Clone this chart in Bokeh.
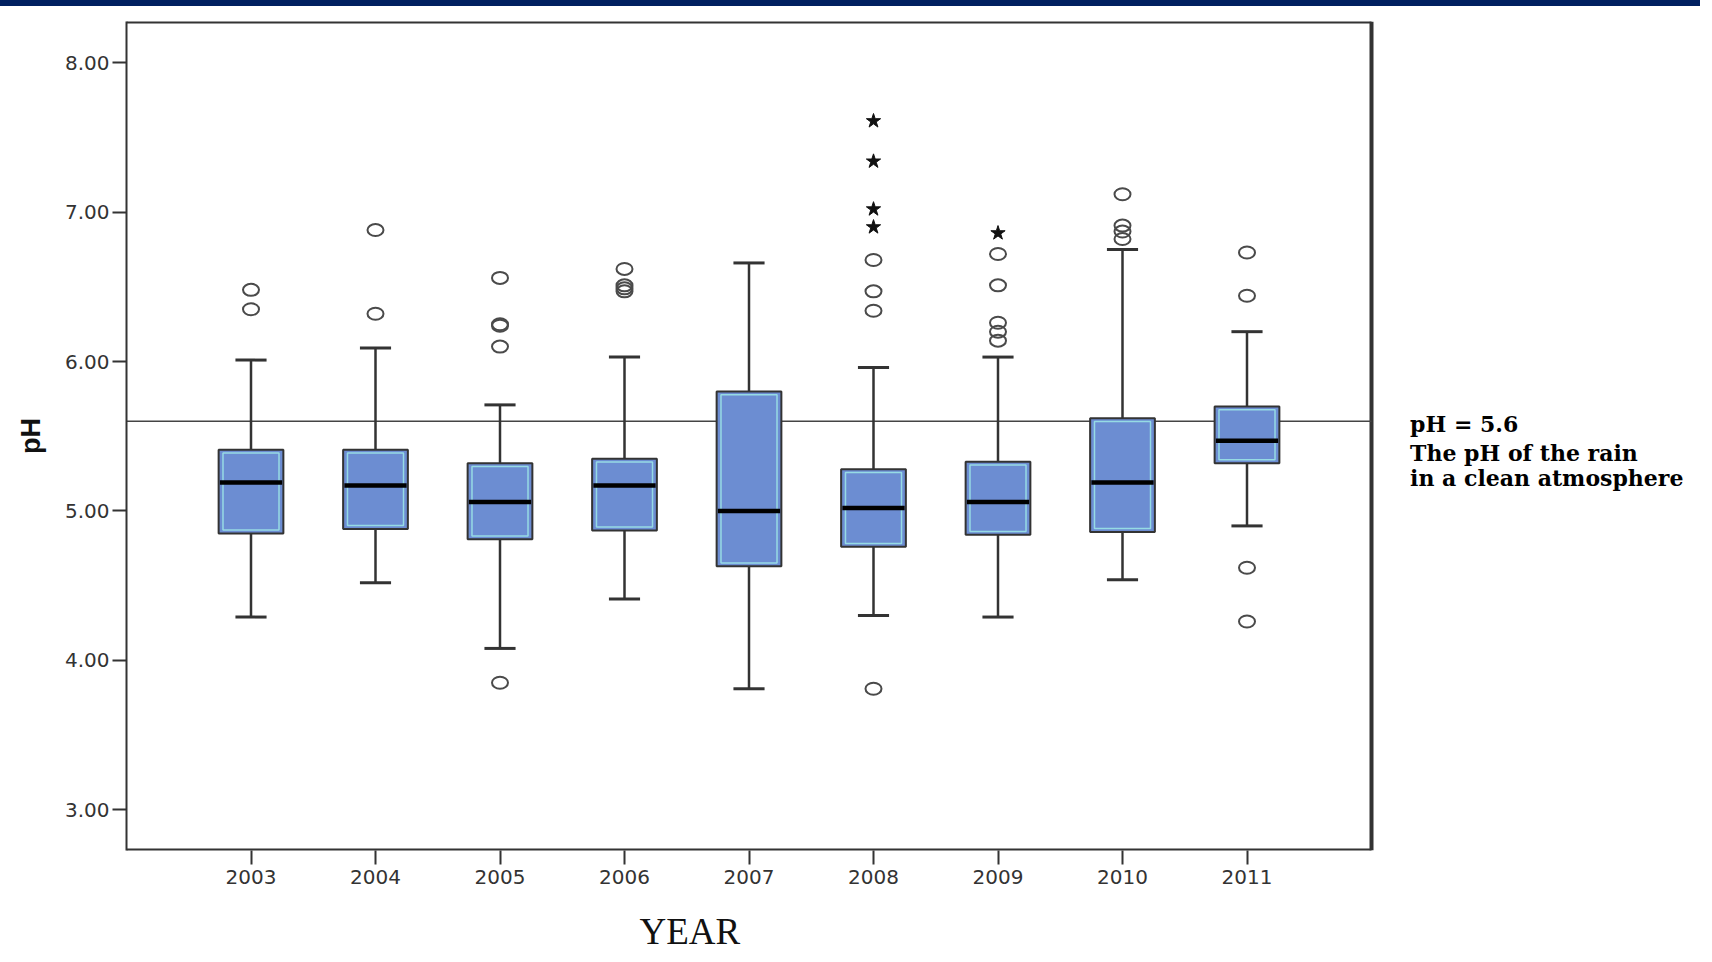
from bokeh.plotting import figure
from bokeh.models import Range1d, FixedTicker, Title, Div
from bokeh.layouts import column
from bokeh.core.properties import value
from bokeh.embed import file_html
from bokeh.resources import INLINE

# ---------------- data ----------------
years = ["2003", "2004", "2005", "2006", "2007", "2008", "2009", "2010", "2011"]
lower_whisker = [4.29, 4.52, 4.08, 4.41, 3.81, 4.30, 4.29, 4.54, 4.90]
q1 = [4.85, 4.88, 4.81, 4.87, 4.63, 4.76, 4.84, 4.86, 5.32]
median = [5.19, 5.17, 5.06, 5.17, 5.00, 5.02, 5.06, 5.19, 5.47]
q3 = [5.41, 5.41, 5.32, 5.35, 5.80, 5.28, 5.33, 5.62, 5.70]
upper_whisker = [6.01, 6.09, 5.71, 6.03, 6.66, 5.96, 6.03, 6.75, 6.20]

outlier_year = (["2003"] * 2 + ["2004"] * 2 + ["2005"] * 5 + ["2006"] * 4 +
                ["2008"] * 4 + ["2009"] * 5 + ["2010"] * 4 + ["2011"] * 4)
outlier_ph = [6.48, 6.35,
              6.88, 6.32,
              6.56, 6.25, 6.24, 6.10, 3.85,
              6.62, 6.51, 6.49, 6.47,
              6.68, 6.47, 6.34, 3.81,
              6.72, 6.51, 6.26, 6.20, 6.14,
              7.12, 6.91, 6.87, 6.82,
              6.73, 6.44, 4.62, 4.26]
extreme_year = ["2008", "2008", "2008", "2008", "2009"]
extreme_ph = [7.61, 7.34, 7.02, 6.90, 6.86]

clean_ph = 5.6
y_ticks = [3, 4, 5, 6, 7, 8]
y_tick_labels = ["3.00", "4.00", "5.00", "6.00", "7.00", "8.00"]
note_lines = ["pH = 5.6", "The pH of the rain", "in a clean atmosphere"]

# ---------------- geometry helpers ----------------
xpos = [i + 1 for i in range(len(years))]
xmap = {y: i + 1 for i, y in enumerate(years)}
n_cat = len(years)
x_end_box = n_cat + 1          # right border of the plotting box
y_lo, y_hi = 2.7275, 8.276
box_half = 0.26
cap_half = 0.125
dark = "#333333"

W, H = 1700, 956
p = figure(width=W, height=H, output_backend="svg", toolbar_location=None,
           x_range=Range1d(0, (W - 126) / 124.5), y_range=Range1d(y_lo, y_hi),
           min_border_left=126, min_border_right=0, min_border_top=15,
           min_border_bottom=112)
p.outline_line_color = None
p.grid.visible = False

# x axis
p.xaxis.ticker = FixedTicker(ticks=xpos)
p.xaxis.major_label_overrides = {x: y for x, y in zip(xpos, years)}
p.xaxis.axis_line_color = None
p.xaxis.major_tick_out = 14
p.xaxis.major_tick_in = 0
p.xaxis.major_tick_line_width = 2
p.xaxis.major_tick_line_color = dark
p.xaxis.minor_tick_line_color = None
p.xaxis.major_label_text_font = "DejaVu Sans"
p.xaxis.major_label_text_font_size = "20px"
p.xaxis.major_label_text_color = dark
p.xaxis.major_label_standoff = 5

# y axis
p.yaxis.ticker = FixedTicker(ticks=y_ticks)
p.yaxis.major_label_overrides = {t: l for t, l in zip(y_ticks, y_tick_labels)}
p.yaxis.axis_line_color = dark
p.yaxis.axis_line_width = 2
p.yaxis.major_tick_out = 14
p.yaxis.major_tick_in = 0
p.yaxis.major_tick_line_width = 2
p.yaxis.major_tick_line_color = dark
p.yaxis.minor_tick_line_color = None
p.yaxis.major_label_text_font = "DejaVu Sans"
p.yaxis.major_label_text_font_size = "20px"
p.yaxis.major_label_text_color = dark
p.yaxis.major_label_standoff = 3
p.yaxis.axis_label = "pH"
p.yaxis.axis_label_text_font = "Liberation Sans"
p.yaxis.axis_label_text_font_style = "bold"
p.yaxis.axis_label_text_font_size = "27px"
p.yaxis.axis_label_text_color = "#111111"
p.yaxis.axis_label_standoff = 16

# box border (top, right, bottom)
p.segment(x0=[0, x_end_box, 0], y0=[y_hi, y_lo, y_lo],
          x1=[x_end_box, x_end_box, x_end_box], y1=[y_hi, y_hi, y_lo],
          line_color=dark, line_width=4)

# reference line pH 5.6
p.segment(x0=[0], y0=[clean_ph], x1=[x_end_box], y1=[clean_ph],
          line_color="#444444", line_width=1.6)

# whiskers
p.segment(x0=xpos, y0=q3, x1=xpos, y1=upper_whisker, line_color=dark, line_width=2.5)
p.segment(x0=xpos, y0=q1, x1=xpos, y1=lower_whisker, line_color=dark, line_width=2.5)
p.segment(x0=[x - cap_half for x in xpos], y0=upper_whisker,
          x1=[x + cap_half for x in xpos], y1=upper_whisker, line_color=dark, line_width=3)
p.segment(x0=[x - cap_half for x in xpos], y0=lower_whisker,
          x1=[x + cap_half for x in xpos], y1=lower_whisker, line_color=dark, line_width=3)

# boxes
p.quad(left=[x - box_half for x in xpos], right=[x + box_half for x in xpos],
       bottom=q1, top=q3, fill_color="#6c8dd2", line_color=dark, line_width=2)
inset_x = 0.035
inset_y = 0.022
p.quad(left=[x - box_half + inset_x for x in xpos], right=[x + box_half - inset_x for x in xpos],
       bottom=[v + inset_y for v in q1], top=[v - inset_y for v in q3],
       fill_color=None, line_color="#9be3e6", line_width=1.5, line_alpha=0.9)
p.segment(x0=[x - box_half + 0.01 for x in xpos], y0=median,
          x1=[x + box_half - 0.01 for x in xpos], y1=median,
          line_color="#000000", line_width=4.5)

# outliers
p.ellipse(x=[xmap[y] for y in outlier_year], y=outlier_ph, width=16, height=12,
          width_units="screen", height_units="screen",
          fill_color=None, line_color="#4a4a4a", line_width=2)
p.scatter(x=[xmap[y] for y in extreme_year], y=extreme_ph, marker="star", size=15,
          fill_color="#111111", line_color="#111111")

# annotation text
p.text(x=[10.31, 10.31, 10.31], y=[5.58, 5.39, 5.222], text=note_lines,
       text_font=value("DejaVu Serif"), text_font_style="bold",
       text_font_size="22px", text_color="#000000", text_baseline="alphabetic",
       text_align="left")

# spacer panel between the x axis and the "YEAR" title
p.add_layout(Title(text=" ", text_font_size="1px", standoff=19), "below")
# x axis title (offset to the left as in the original)
p.add_layout(Title(text="YEAR", align="left", offset=513, text_font="Liberation Serif",
                   text_font_size="37px", text_font_style="normal",
                   text_color="#111111", standoff=0), "below")

bar = Div(text="", width=W, height=6, margin=(0, 0, 0, 0),
          styles={"background-color": "#002060"})

layout = column(bar, p, spacing=0)
open("out.html", "w").write(file_html(layout, INLINE))
